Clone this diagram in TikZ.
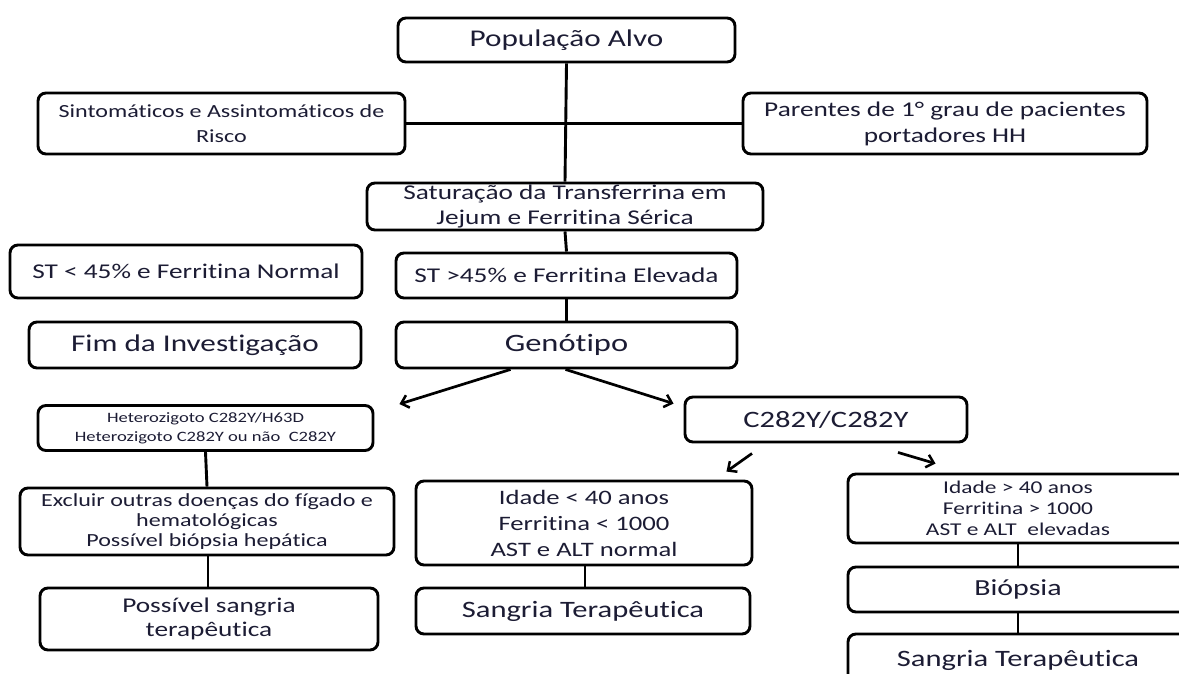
\documentclass[tikz,border=0pt]{standalone}
\usepackage{fontspec}
\setmainfont{Carlito}[FakeStretch=1.3,Ligatures=NoCommon]
\usetikzlibrary{arrows.meta}
\definecolor{txt}{RGB}{28,28,52}
\newcommand{\fs}[2]{\fontsize{#1pt}{#2pt}\selectfont}
\tikzset{
  box/.style={draw=black, rounded corners=8pt, line width=2.9pt, inner sep=0pt, align=center, text=txt},
  link/.style={draw=black, line width=2.9pt},
  arr/.style={draw=black, line width=2.7pt, -{Straight Barb[length=7pt,width=13pt,line width=2.5pt]}}
}
\begin{document}
\begin{tikzpicture}[x=1pt,y=-1pt]
\useasboundingbox (0,0) rectangle (1179,674);
\clip (0,0) rectangle (1179,674);
\fill[white] (0,0) rectangle (1179,674);

\node[box, minimum width=337pt, minimum height=44pt, font=\fs{24}{29}] (pop) at (566.5,40) {População Alvo};
\node[box, minimum width=367pt, minimum height=61pt, font=\fs{18.5}{25}] (sint) at (221.5,123.5) {Sintomáticos e Assintomáticos de\\Risco};
\node[box, minimum width=404pt, minimum height=61pt, font=\fs{21}{26}] (par) at (945,123.5) {Parentes de 1° grau de pacientes\\portadores HH};
\node[box, minimum width=396pt, minimum height=47pt, font=\fs{21}{25}] (sat) at (565,206.5) {Saturação da Transferrina em\\Jejum e Ferritina Sérica};
\node[box, minimum width=352pt, minimum height=53pt, font=\fs{21}{25}] (stl) at (186,271.5) {ST < 45\% e Ferritina Normal};
\node[box, minimum width=341pt, minimum height=45pt, font=\fs{21}{25}] (sth) at (566.5,275.5) {ST >45\% e Ferritina Elevada};
\node[box, minimum width=332pt, minimum height=46pt, font=\fs{24}{29}] (fim) at (195,345) {Fim da Investigação};
\node[box, minimum width=341pt, minimum height=46pt, font=\fs{25}{30}] (gen) at (566.5,345) {Genótipo};
\node[box, minimum width=335pt, minimum height=45pt, font=\fs{14.3}{19}] (het) at (205.5,428) {Heterozigoto C282Y/H63D\\Heterozigoto C282Y ou não\ \ C282Y};
\node[box, minimum width=282pt, minimum height=45pt, font=\fs{23.5}{28}] (cc) at (826,419.5) {C282Y/C282Y};
\node[box, minimum width=374pt, minimum height=67pt, font=\fs{18.5}{20}] (exc) at (207,521.5) {Excluir outras doenças do fígado e\\hematológicas\\Possível biópsia hepática};
\node[box, minimum width=336pt, minimum height=84pt, font=\fs{20.5}{26}] (ia) at (584,523) {Idade < 40 anos\\Ferritina < 1000\\AST e ALT normal};
\node[box, minimum width=340pt, minimum height=69pt, font=\fs{18}{21}] (ib) at (1018,508.5) {Idade > 40 anos\\Ferritina > 1000\\AST e ALT\ \ elevadas};
\node[box, minimum width=338pt, minimum height=62pt, font=\fs{21}{24}] (pos) at (209,619) {Possível sangria\\terapêutica};
\node[box, minimum width=334pt, minimum height=46pt, font=\fs{23.5}{28}] (sa) at (583,611) {Sangria Terapêutica};
\node[box, minimum width=340pt, minimum height=45pt, font=\fs{23}{28}] (bio) at (1018,589.5) {Biópsia};
\node[box, minimum width=340pt, minimum height=52pt, font=\fs{23.5}{28}] (sb) at (1018,660) {Sangria Terapêutica};

% connectors
\draw[link] (pop.south) -- (sat.north);
\draw[link] (sint.east) -- (par.west);
\draw[link] (sat.south) -- (sth.north);
\draw[link] (sth.south) -- (gen.north);
\draw[arr] ([xshift=-56pt]gen.south) -- ([xshift=25pt]het.north east);
\draw[arr] ([xshift=-1pt]gen.south) -- ([xshift=-10pt,yshift=-8pt]cc.north west);
\draw[link] (het.south) -- (exc.north);
\draw[link] ([xshift=1pt]exc.south) -- ([xshift=-1pt]pos.north);
\draw[arr] ([xshift=-74pt,yshift=-10pt]cc.south) -- ([xshift=-27pt,yshift=8pt]ia.north east);
\draw[arr] ([xshift=72pt,yshift=-9pt]cc.south) -- ([xshift=89pt,yshift=9pt]ib.north west);
\draw[link] ([xshift=1pt]ia.south) -- ([xshift=2pt]sa.north);
\draw[link] (ib.south) -- (bio.north);
\draw[link] (bio.south) -- (sb.north);
\end{tikzpicture}
\end{document}
